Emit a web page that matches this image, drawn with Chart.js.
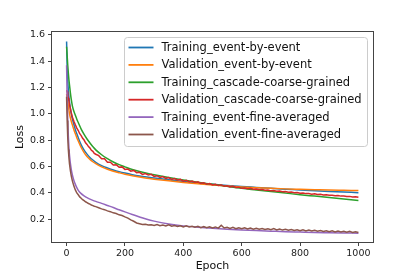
<!DOCTYPE html>
<html>
<head>
<meta charset="utf-8">
<script src="https://cdn.jsdelivr.net/npm/chart.js@4/dist/chart.umd.min.js"></script>
<style>
  html, body { margin: 0; padding: 0; background: #fff; }
  canvas { display: block; }
</style>
</head>
<body>
<canvas id="lossChart" width="415" height="277"></canvas>
<script>
// 曲线数据
const seriesLabels = [
  'Training_event-by-event',
  'Validation_event-by-event',
  'Training_cascade-coarse-grained',
  'Validation_cascade-coarse-grained',
  'Training_event-fine-averaged',
  'Validation_event-fine-averaged'
];
const seriesColors = ['#1f77b4', '#ff7f0e', '#2ca02c', '#d62728', '#9467bd', '#8c564b'];

// 平滑曲线的 epoch
const epochs = [0, 2, 4, 6, 8, 10, 13, 16, 20, 25, 30, 35, 40, 50, 60, 70, 80, 90, 100, 120, 140, 160, 180, 200,
  225, 250, 275, 300, 350, 400, 450, 500, 550, 600, 650, 700, 750, 800, 850, 900, 950, 1000];

// 噪声曲线的 epoch（更密）
const epochsFine = [0, 2, 4, 6, 8, 10, 13, 16, 20, 25, 30, 35, 40, 45, 50, 55, 60, 65, 70, 75, 80, 85, 90, 95, 100,
  110, 120, 130, 140, 150, 160, 170, 180, 190, 200, 210, 220, 230, 240, 250, 260, 270, 280, 290, 300,
  310, 320, 330, 340, 350, 360, 370, 380, 390, 400, 410, 420, 430, 440, 450, 460, 470, 480, 490, 500,
  510, 520, 530, 540, 550, 560, 570, 580, 590, 600, 610, 620, 630, 640, 650, 660, 670, 680, 690, 700,
  710, 720, 730, 740, 750, 760, 770, 780, 790, 800, 810, 820, 830, 840, 850, 860, 870, 880, 890, 900,
  910, 920, 930, 940, 950, 960, 970, 980, 990, 1000];

const trainEbe = [1.55, 1.36, 1.25, 1.18, 1.13, 1.09, 1.04, 1.0, 0.96, 0.92, 0.88, 0.85, 0.82, 0.765, 0.725, 0.695,
  0.67, 0.65, 0.633, 0.608, 0.59, 0.575, 0.562, 0.551, 0.539, 0.529, 0.521, 0.514, 0.5, 0.487, 0.476, 0.466,
  0.457, 0.449, 0.442, 0.435, 0.429, 0.423, 0.417, 0.412, 0.407, 0.402];

const valEbe = [1.15, 1.12, 1.09, 1.06, 1.03, 1.0, 0.97, 0.945, 0.915, 0.88, 0.85, 0.82, 0.795, 0.745, 0.707, 0.677,
  0.655, 0.637, 0.622, 0.598, 0.58, 0.565, 0.553, 0.542, 0.531, 0.521, 0.512, 0.505, 0.492, 0.48, 0.47, 0.461,
  0.453, 0.446, 0.44, 0.435, 0.431, 0.428, 0.425, 0.422, 0.42, 0.418];

const trainCoarse = [1.51, 1.44, 1.37, 1.31, 1.26, 1.22, 1.16, 1.11, 1.06, 1.02, 0.99, 0.96, 0.935, 0.885, 0.845,
  0.81, 0.78, 0.752, 0.727, 0.69, 0.66, 0.635, 0.615, 0.598, 0.578, 0.563, 0.55, 0.538, 0.517, 0.498, 0.481,
  0.466, 0.45, 0.435, 0.423, 0.411, 0.399, 0.387, 0.376, 0.365, 0.354, 0.343];

const valCoarse = [1.18, 1.17, 1.14, 1.12, 1.10, 1.07, 1.04, 1.01, 0.975, 0.945, 0.918, 0.893, 0.874, 0.85, 0.836,
  0.815, 0.802, 0.781, 0.769, 0.752, 0.741, 0.724, 0.716, 0.701, 0.694,
  0.683, 0.660, 0.659, 0.634, 0.633, 0.612, 0.614, 0.596, 0.598, 0.579,
  0.581, 0.565, 0.571, 0.554, 0.557, 0.541, 0.548, 0.536, 0.541, 0.526,
  0.531, 0.518, 0.524, 0.511, 0.517, 0.503, 0.510, 0.498, 0.503, 0.490,
  0.496, 0.485, 0.491, 0.480, 0.485, 0.473, 0.478, 0.467, 0.472, 0.461,
  0.466, 0.456, 0.461, 0.451, 0.455, 0.445, 0.450, 0.441, 0.444, 0.435,
  0.438, 0.432, 0.435, 0.428, 0.430, 0.424, 0.427, 0.420, 0.422, 0.416,
  0.418, 0.413, 0.415, 0.409, 0.411, 0.405, 0.407, 0.401, 0.403, 0.398,
  0.399, 0.395, 0.396, 0.391, 0.393, 0.388, 0.390, 0.385, 0.386, 0.382,
  0.383, 0.379, 0.380, 0.376, 0.377, 0.373, 0.374, 0.370, 0.371, 0.367];

const trainFine = [1.37, 1.12, 0.95, 0.83, 0.745, 0.685, 0.625, 0.58, 0.535, 0.495, 0.465, 0.44, 0.42, 0.395, 0.378,
  0.364, 0.353, 0.344, 0.336, 0.321, 0.305, 0.289, 0.272, 0.256, 0.237, 0.218, 0.2, 0.186, 0.165, 0.15, 0.14,
  0.132, 0.125, 0.119, 0.114, 0.11, 0.106, 0.103, 0.1, 0.098, 0.096, 0.094];

const valFine = [1.13, 0.95, 0.82, 0.73, 0.67, 0.62, 0.57, 0.53, 0.49, 0.452, 0.423, 0.40, 0.386, 0.37, 0.36,
  0.349, 0.341, 0.333, 0.327, 0.320, 0.315, 0.308, 0.304, 0.299, 0.296,
  0.288, 0.279, 0.273, 0.264, 0.258, 0.249, 0.244, 0.234, 0.229, 0.218,
  0.209, 0.196, 0.185, 0.172, 0.166, 0.160, 0.163, 0.156, 0.159, 0.153,
  0.160, 0.151, 0.156, 0.149, 0.158, 0.147, 0.153, 0.145, 0.151, 0.142,
  0.150, 0.141, 0.147, 0.140, 0.146, 0.137, 0.145, 0.136, 0.143, 0.135,
  0.142, 0.133, 0.155, 0.134, 0.140, 0.131, 0.139, 0.129, 0.136, 0.128,
  0.135, 0.126, 0.134, 0.125, 0.131, 0.124, 0.130, 0.122, 0.128, 0.121,
  0.129, 0.119, 0.126, 0.118, 0.124, 0.117, 0.123, 0.115, 0.121, 0.114,
  0.120, 0.112, 0.118, 0.111, 0.117, 0.109, 0.115, 0.108, 0.113, 0.106,
  0.112, 0.104, 0.110, 0.103, 0.109, 0.101, 0.108, 0.100, 0.106, 0.099];

// 坐标轴刻度
const xTicks = [0, 200, 400, 600, 800, 1000];
const yTicks = [0.2, 0.4, 0.6, 0.8, 1.0, 1.2, 1.4, 1.6];

const seriesData = [
  [epochs, trainEbe],
  [epochs, valEbe],
  [epochs, trainCoarse],
  [epochsFine, valCoarse],
  [epochs, trainFine],
  [epochsFine, valFine]
];

const FONT = '"DejaVu Sans", sans-serif';

// 边框 + 图例
const framePlugin = {
  id: 'frameLegend',
  afterDatasetsDraw(chart) {
    const { ctx, chartArea: a } = chart;
    ctx.save();
    ctx.strokeStyle = '#444';
    ctx.lineWidth = 1;
    ctx.strokeRect(a.left - 0.5, a.top - 0.5, a.right - a.left + 1, a.bottom - a.top + 1);

    // legend box
    const bx = 124.5, by = 37.5, bw = 243, bh = 109;
    ctx.fillStyle = 'rgba(255,255,255,0.8)';
    ctx.strokeStyle = '#cccccc';
    ctx.beginPath();
    ctx.roundRect(bx, by, bw, bh, 3);
    ctx.fill();
    ctx.stroke();

    ctx.font = '11.5px ' + FONT;
    ctx.textBaseline = 'middle';
    ctx.textAlign = 'left';
    seriesLabels.forEach((label, i) => {
      const y = 47.5 + i * 17.4;
      ctx.strokeStyle = seriesColors[i];
      ctx.lineWidth = 1.8;
      ctx.beginPath();
      ctx.moveTo(128.5, y);
      ctx.lineTo(153.5, y);
      ctx.stroke();
      ctx.fillStyle = '#111';
      ctx.fillText(label, 161.5, y + 0.5);
    });
    ctx.restore();
  }
};

new Chart(document.getElementById('lossChart'), {
  type: 'line',
  data: {
    datasets: seriesData.map(([xs, ys], i) => ({
      label: seriesLabels[i],
      data: xs.map((x, j) => ({ x: x, y: ys[j] })),
      borderColor: seriesColors[i],
      backgroundColor: seriesColors[i],
      borderWidth: 1.5,
      pointRadius: 0,
      tension: 0,
      cubicInterpolationMode: i === 3 || i === 5 ? 'default' : 'monotone',
      fill: false,
      order: 6 - i
    }))
  },
  options: {
    responsive: false,
    animation: false,
    devicePixelRatio: 1,
    layout: { padding: { left: 0, right: 42, top: 32, bottom: 0 } },
    plugins: {
      legend: { display: false },
      tooltip: { enabled: false }
    },
    scales: {
      x: {
        type: 'linear',
        min: -50,
        max: 1050,
        afterBuildTicks: s => { s.ticks = xTicks.map(v => ({ value: v })); },
        afterFit: s => { s.height = 35; },
        grid: { drawOnChartArea: false, drawTicks: true, tickLength: 4, color: '#444' },
        border: { display: false },
        ticks: { color: '#222', font: { family: FONT, size: 9.5 }, padding: 2, maxRotation: 0, callback: v => String(v) },
        title: { display: true, text: 'Epoch', color: '#111', font: { family: FONT, size: 11 }, padding: { top: 0, bottom: 4 } }
      },
      y: {
        type: 'linear',
        min: 0.0275,
        max: 1.6225,
        afterBuildTicks: s => { s.ticks = yTicks.map(v => ({ value: v })); },
        afterFit: s => { s.width = 52; },
        grid: { drawOnChartArea: false, drawTicks: true, tickLength: 4, color: '#444' },
        border: { display: false },
        ticks: { color: '#222', font: { family: FONT, size: 9.5 }, padding: 3, callback: v => v.toFixed(1) },
        title: { display: true, text: 'Loss', color: '#111', font: { family: FONT, size: 11 }, padding: { top: 14, bottom: 0 } }
      }
    }
  },
  plugins: [framePlugin]
});
</script>
</body>
</html>
